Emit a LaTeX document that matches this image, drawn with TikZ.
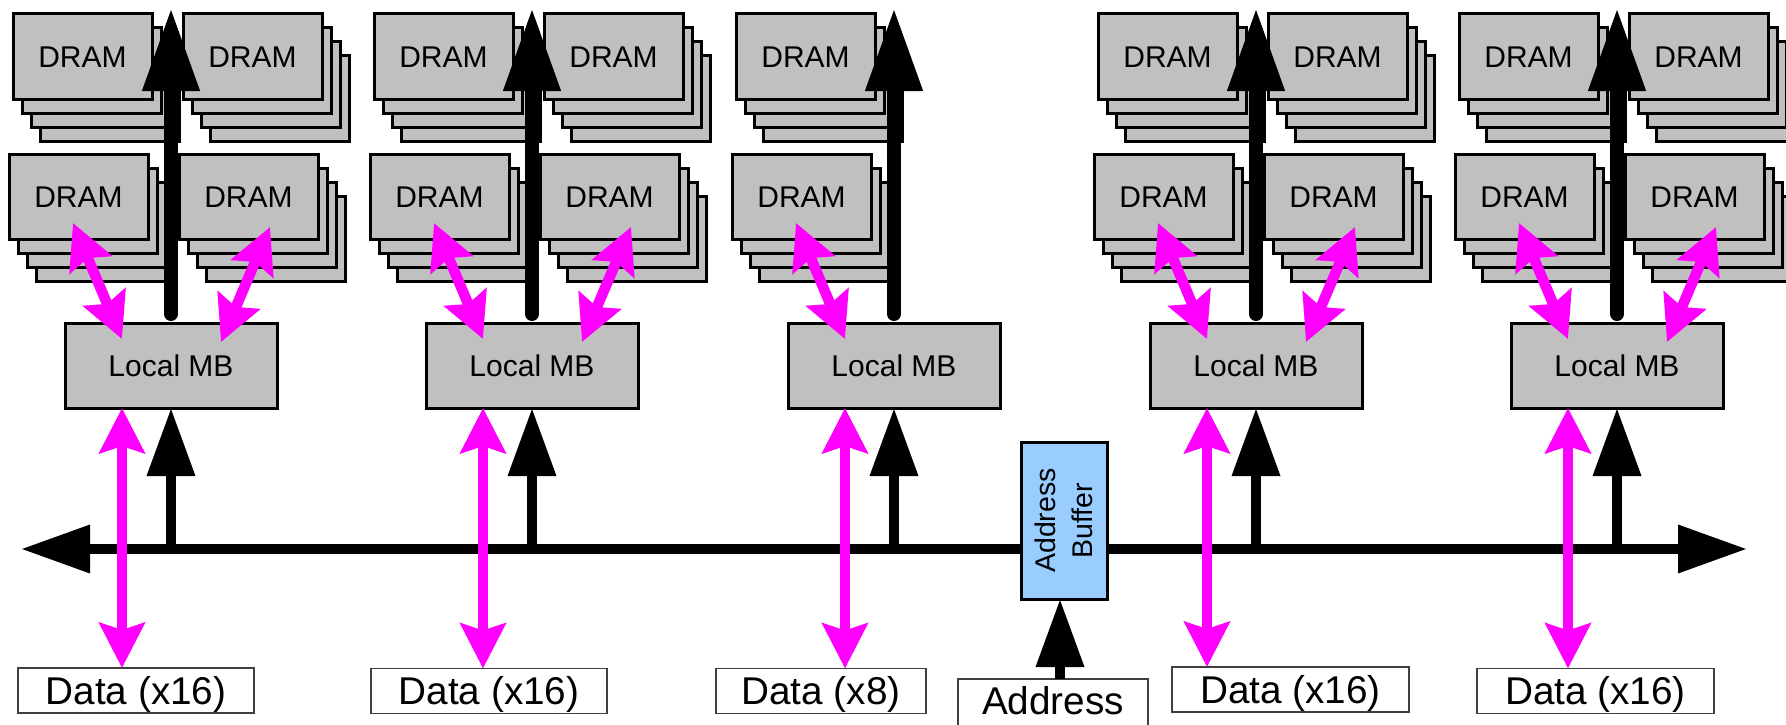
\documentclass[tikz,border=0pt]{standalone}
\usepackage{fontspec}
\setmainfont{Liberation Sans}
\usetikzlibrary{arrows.meta,calc}

\definecolor{chipgray}{HTML}{C0C0C0}
\definecolor{bufblue}{HTML}{99CCFF}
\definecolor{datamag}{HTML}{FF00FF}

\tikzset{
  chip/.style={draw=black, fill=chipgray, line width=3pt},
  dram/.style={chip, minimum width=139pt, minimum height=85pt, inner sep=0pt,
    outer sep=0pt, anchor=north west, font=\fontsize{30}{36}\selectfont,
    text height=21.5pt, text depth=0pt},
  hub/.style={chip, minimum width=212pt, minimum height=85pt, inner sep=0pt,
    outer sep=0pt, font=\fontsize{30}{36}\selectfont,
    text height=21.5pt, text depth=0pt},
  buffer/.style={chip, fill=bufblue, minimum width=86pt, minimum height=157pt,
    inner sep=0pt, outer sep=0pt},
  databox/.style={draw=black!75, line width=1.2pt, fill=white, minimum height=45pt,
    inner sep=0pt, outer sep=0pt, font=\fontsize{38.7}{46}\selectfont,
    text height=27.5pt, text depth=0pt},
  riser/.style={line width=14pt, line cap=round, -{Triangle[length=83pt,width=54pt]}},
  bus/.style={line width=10pt,
    {Triangle[length=69pt,width=46pt]}-{Triangle[length=69pt,width=46pt]}},
  feed/.style={line width=10pt, -{Triangle[length=68pt,width=46pt]}},
  dataarrow/.style={draw=datamag, line width=10.5pt,
    {Stealth[length=45pt,width=45pt,inset=7pt]}-{Stealth[length=45pt,width=45pt,inset=7pt]}},
}

% a stack of four DRAM chips: three offset layers behind a labelled front chip
\newcommand\dramstack[3]{%
  \foreach \k in {3,2,1}{\draw[chip] (#2+9.2*\k,#3+14*\k) rectangle ++(139,85);}
  \node[dram] (#1) at (#2,#3) {DRAM};%
}

\begin{document}
\begin{tikzpicture}[x=1pt,y=-1pt]
\clip (0,0) rectangle (1786,725);

% memory chips and local memory buffers
\foreach \g/\cx/\full in {1/171/1,2/532/1,3/894/0,4/1256/1,5/1617/1}{
  \dramstack{dtl\g}{\cx-158}{14}
  \dramstack{dbl\g}{\cx-162}{154}
  \ifnum\full=1
    \dramstack{dtr\g}{\cx+12}{14}
    \dramstack{dbr\g}{\cx+8}{154}
  \fi
  \node[hub] (mb\g) at (\cx,365.5) {Local MB};
}

% command paths up through each stack
\foreach \g/\cx in {1/171,2/532,3/894,4/1256,5/1617}{
  \coordinate (top\g) at (\cx,8);
  \draw[riser] ($(mb\g.north)+(0,-9)$) -- (top\g);
}

% shared address/command bus
\coordinate (busL) at (21,549);
\coordinate (busR) at (1747,549);
\draw[bus] (busL) -- (busR);
\foreach \g in {1,...,5}{
  \draw[feed] (mb\g.south |- busL) -- (mb\g.south);
}

% address buffer driving the bus
\node[buffer] (abuf) at (1064,520.5) {};
\node[rotate=90, align=center, font=\fontsize{28.5}{37}\selectfont] (abuftext)
  at (abuf.center) {Address\\Buffer};
\node[databox, minimum width=190pt, minimum height=50pt, text depth=6pt] (addr)
  at (1053,704) {Address};
\coordinate (ax) at (1060,640);
\draw[feed] (addr.north -| ax) -- (abuf.south -| ax);

% data ports
\node[databox, minimum width=236pt] (data1) at (136,690.5) {Data (x16)};
\node[databox, minimum width=236pt] (data2) at (489,691) {Data (x16)};
\node[databox, minimum width=210pt] (data3) at (821,691) {Data (x8)};
\node[databox, minimum width=237pt] (data4) at (1290.5,689.5) {Data (x16)};
\node[databox, minimum width=237pt] (data5) at (1595.5,691) {Data (x16)};

% data paths
\foreach \g in {1,...,5}{
  \coordinate (mx\g) at ($(mb\g.south)+(-49,0)$);
  \draw[dataarrow] (mx\g) -- (mx\g |- data\g.north);
  \draw[dataarrow] ($(dbl\g.south)+(-5.5,-16)$) -- ($(mb\g.north)+(-49,16)$);
}
\foreach \g in {1,2,4,5}{
  \draw[dataarrow] ($(dbr\g.south)+(21.5,-12)$) -- ($(mb\g.north)+(50,19)$);
}
\end{tikzpicture}
\end{document}
